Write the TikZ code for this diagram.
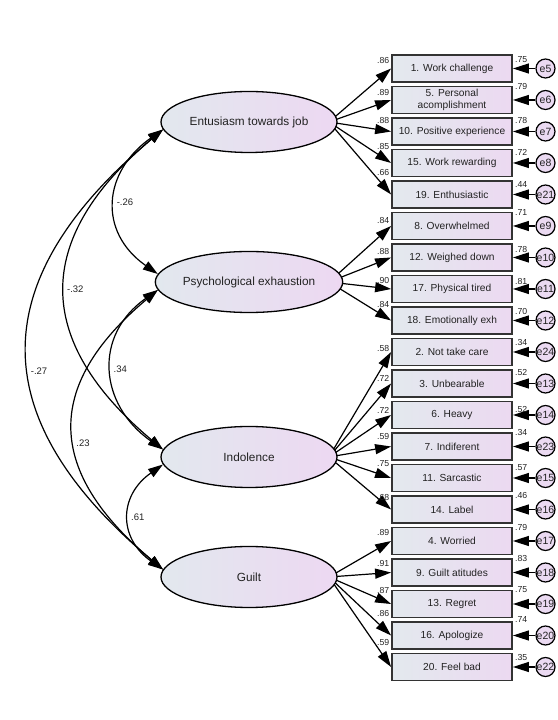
\documentclass[tikz,border=0pt]{standalone}
\usepackage{fontspec}
\setmainfont{Liberation Sans}
\usetikzlibrary{arrows.meta,shapes.geometric,backgrounds}
\definecolor{latL}{HTML}{E2E8EE}
\definecolor{latR}{HTML}{EDD8F2}
\definecolor{obsL}{HTML}{E3E9EE}
\definecolor{obsR}{HTML}{ECD9F1}
\definecolor{errF}{HTML}{EBDAF2}
\definecolor{txt}{HTML}{222222}
\begin{document}
\begin{tikzpicture}[x=1pt,y=1pt,
  lat/.style={ellipse, draw=black, line width=1.3pt, minimum width=176pt, minimum height=61pt, inner sep=0pt, left color=latL, right color=latR, font=\fontsize{11.8}{13}\selectfont, text=txt},
  obs/.style={rectangle, draw=black!80, line width=1.8pt, minimum width=120pt, minimum height=27pt, inner sep=0pt, left color=obsL, right color=obsR, font=\fontsize{10.2}{11.5}\selectfont, align=center, text=txt},
  err/.style={circle, draw=black, line width=1.2pt, minimum size=19pt, inner sep=0pt, fill=errF, font=\fontsize{10.5}{10}\selectfont, text=txt},
  arr/.style={-{Triangle[length=16pt,width=10pt]}, line width=1.2pt},
  cov/.style={{Triangle[length=15pt,width=9.5pt]}-{Triangle[length=15pt,width=9.5pt]}, line width=1.2pt},
  val/.style={font=\fontsize{8.7}{9}\selectfont, inner sep=0pt, text=txt},
  cval/.style={font=\fontsize{9.5}{10}\selectfont, inner sep=1pt, anchor=west, text=txt}
]
\useasboundingbox (0,0) rectangle (557,720);

% latent variables
\node[lat] (ent) at (249,598) {Entusiasm towards job};
\node[lat] (psy) at (249,438) {Psychological exhaustion};
\node[lat] (ind) at (249,263) {Indolence};
\node[lat] (gui) at (249,143) {Guilt};

% observed variables, errors, labels
\foreach \i/\t/\l/\ly/\r/\ry/\e in {
  0/{1. Work challenge}/.86/61/.75/60/e5,
  1/{5. Personal\\acomplishment}/.89/93/.79/87/e6,
  2/{10. Positive experience}/.88/121/.78/121/e7,
  3/{15. Work rewarding}/.85/147/.72/152/e8,
  4/{19. Enthusiastic}/.66/173/.44/185/e21,
  5/{8. Overwhelmed}/.84/221/.71/213/e9,
  6/{12. Weighed down}/.88/252/.78/250/e10,
  7/{17. Physical tired}/.90/281/.81/282/e11,
  8/{18. Emotionally exh}/.84/305/.70/312/e12,
  9/{2. Not take care}/.58/349/.34/343/e24,
  10/{3. Unbearable}/.72/378/.52/373/e13,
  11/{6. Heavy}/.72/410/.52/410/e14,
  12/{7. Indiferent}/.59/437/.34/433/e23,
  13/{11. Sarcastic}/.75/464/.57/468/e15,
  14/{14. Label}/.68/498/.46/496/e16,
  15/{4. Worried}/.89/533/.79/528/e17,
  16/{9. Guilt atitudes}/.91/564/.83/559/e18,
  17/{13. Regret}/.87/591/.75/590/e19,
  18/{16. Apologize}/.86/614/.74/620/e20,
  19/{20. Feel bad}/.59/643/.35/658/e22}{
  \node[obs] (b\i) at (452,651.5-31.5*\i) {\t};
  \node[err] (c\i) at (545.5,651.5-31.5*\i) {\e};
  \draw[arr] (c\i) -- (b\i.east);
  \node[val, anchor=east] (lv\i) at (389.5,720-\ly) {\l};
  \node[val, anchor=west] (ev\i) at (515,720-\ry) {\r};
}

% loadings (start hidden under the ellipse, near its right tip)
\begin{pgfonlayer}{background}
\foreach \i in {0,...,4} {\draw[arr] ([xshift=80pt]ent.center) -- (b\i.west);}
\foreach \i in {5,...,8} {\draw[arr] ([xshift=80pt]psy.center) -- (b\i.west);}
\foreach \i in {9,...,14} {\draw[arr] ([xshift=80pt]ind.center) -- (b\i.west);}
\foreach \i in {15,...,19} {\draw[arr] ([xshift=80pt]gui.center) -- (b\i.west);}
\end{pgfonlayer}

% covariances
\draw[cov] (ent.185) to[out=215,in=145,looseness=1.30] node[cval,pos=0.5] (k1) {-.26} (psy.175);
\draw[cov] (ent.185) to[out=220,in=140,looseness=1.36] node[cval,pos=0.5] (k2) {-.32} (ind.175);
\draw[cov] (ent.185) to[out=220,in=140,looseness=1.37] node[cval,pos=0.55] (k3) {-.27} (gui.175);
\draw[cov] (psy.185) to[out=215,in=145,looseness=1.26] node[cval,pos=0.5] (k4) {.34} (ind.175);
\draw[cov] (psy.185) to[out=220,in=140,looseness=1.38] node[cval,pos=0.55] (k5) {.23} (gui.175);
\draw[cov] (ind.185) to[out=215,in=145,looseness=1.33] node[cval,pos=0.5] (k6) {.61} (gui.175);
\end{tikzpicture}
\end{document}
